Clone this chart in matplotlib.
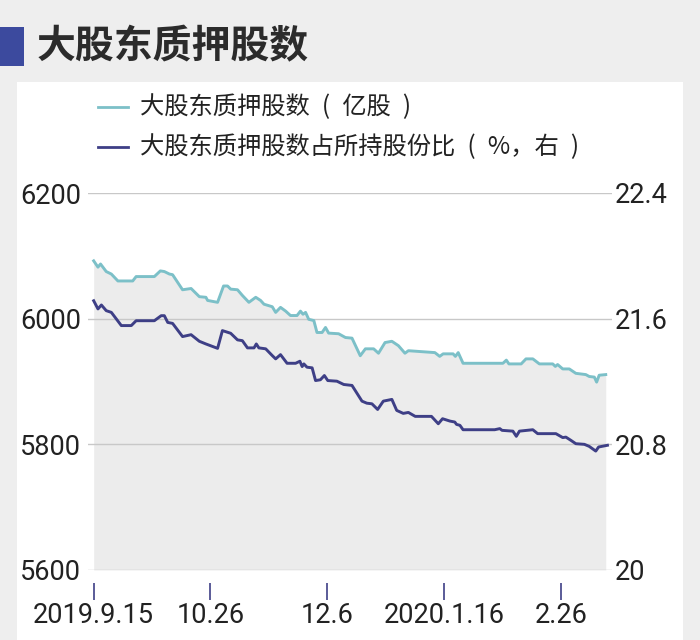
import matplotlib
matplotlib.use("Agg")
import matplotlib.pyplot as plt
from matplotlib.patches import Rectangle

plt.rcParams['font.family'] = ['Noto Sans CJK SC', 'DejaVu Sans']

# days since 2019-09-15
pledge_days = [0, 1.5, 2.4, 4.4, 6.2, 8.5, 13.7, 14.9, 21.3, 23.4, 24.8, 26.6, 27.7,
               31.2, 34.2, 37.1, 39.4, 40, 43.5, 45.6, 47, 48.1, 50.5, 52.2, 54.5,
               56.9, 58.6, 59.8, 62.7, 63.9, 65.6, 67.4, 69.1, 71.4, 72.6, 73.5, 74.4,
               75.5, 77.3, 78.4, 80.2, 81.4, 82.5, 86, 88.4, 90.7, 93.6, 95.4, 98.3,
               100, 102.3, 104.7, 107, 109.3, 110.5, 119.8, 121.5, 122.7, 126.2, 127,
               128, 129.7, 143.7, 144.9, 145.8, 150.1, 151.8, 154.2, 156.5, 161.2,
               162.1, 162.9, 164.7, 167, 169.3, 172.8, 174, 175.8, 176.6, 177.5, 179.8]
pledge_vals = [6092, 6082, 6087, 6075, 6071, 6060, 6060, 6067, 6067, 6076, 6075, 6071, 6070,
               6046, 6048, 6035, 6034, 6029, 6026, 6052, 6052, 6047, 6046, 6037, 6026,
               6034, 6029, 6023, 6019, 6010, 6018, 6012, 6005, 6005, 6012, 6007, 6010,
               5999, 5997, 5978, 5978, 5986, 5977, 5976, 5970, 5969, 5941, 5952, 5952,
               5945, 5962, 5964, 5957, 5945, 5949, 5946, 5940, 5944, 5944, 5940,
               5946, 5929, 5929, 5934, 5928, 5928, 5936, 5936, 5928, 5928,
               5924, 5927, 5920, 5920, 5913, 5911, 5908, 5907, 5899, 5910, 5911]

ratio_days = [0, 1.5, 2.7, 4.4, 6.2, 9.7, 13.2, 14.9, 21.3, 23.7, 24.8, 26, 27.7,
              31.2, 34.2, 37.1, 39.4, 43.5, 45.2, 48.1, 50.5, 52.2, 54, 56.3, 57.1,
              58, 60.4, 62.7, 63.9, 65.6, 67.9, 70.9, 72.4, 73.2, 73.8, 74.9, 76.7,
              77.9, 79.6, 81, 82.2, 85.4, 87.8, 90.7, 94.2, 95.9, 97.7, 99.7, 101.7,
              104.7, 106.4, 108.7, 110.5, 112.9, 118.6, 121, 122.5, 125.1, 126.8,
              127.4, 128.6, 129.7, 140.8, 142.6, 143.4, 147.2, 148.4, 149.5, 154.2,
              155.9, 162.3, 164.7, 165.8, 167.6, 169.3, 172.3, 174, 176.3, 177.3, 180.4]
ratio_vals = [21.714, 21.662, 21.687, 21.651, 21.640, 21.556, 21.556, 21.587, 21.587,
              21.619, 21.619, 21.576, 21.570, 21.486, 21.498, 21.456, 21.439, 21.411,
              21.524, 21.507, 21.465, 21.460, 21.414, 21.414, 21.439, 21.414, 21.408,
              21.365, 21.344, 21.371, 21.316, 21.316, 21.329, 21.295, 21.312, 21.291,
              21.287, 21.206, 21.211, 21.238, 21.206, 21.202, 21.181, 21.175, 21.075,
              21.062, 21.058, 21.022, 21.075, 21.086, 21.016, 20.997, 21.003, 20.978,
              20.978, 20.931, 20.963, 20.948, 20.942, 20.927, 20.921, 20.893, 20.893,
              20.900, 20.889, 20.884, 20.851, 20.884, 20.893, 20.868, 20.868, 20.843,
              20.846, 20.825, 20.804, 20.800, 20.787, 20.757, 20.783, 20.794]

tick_days = [0, 41, 82, 123, 164]
tick_labels = ['2019.9.15', '10.26', '12.6', '2020.1.16', '2.26']
left_ticks = [5600, 5800, 6000, 6200]
right_ticks = [20, 20.8, 21.6, 22.4]
legend_labels = ['大股东质押股数\u2002(\u2002亿股\u2002)',
                 '大股东质押股数占所持股份比\u2002(\u2002%，右\u2002)']

TEAL = '#7cc0c8'
NAVY = '#3e3f86'
W, H = 700, 640
NUM_FONT = ['Roboto', 'DejaVu Sans']

fig = plt.figure(figsize=(7, 6.4), dpi=100, facecolor='#eeeeee')

# white panel + title block
fig.patches.append(Rectangle((17 / W, 0), 666 / W, 558 / H, transform=fig.transFigure,
                             facecolor='white', edgecolor='none', zorder=-5))
fig.patches.append(Rectangle((0, 1 - 66 / H), 24 / W, 39 / H, transform=fig.transFigure,
                             facecolor='#3c4a9e', edgecolor='none', zorder=-4))
fig.text(37 / W, 1 - 47 / H, '大股东质押股数', fontsize=28, fontweight='bold',
         color='#2b2b2b', va='center', ha='left')

ax = fig.add_axes([88 / W, 70 / H, 524 / W, 377 / H])
ax.set_facecolor('none')
ax.set_xlim(-2, 182)
ax.set_ylim(5600, 6200)

ax.fill_between(pledge_days, pledge_vals, 5600, color='#ececec', lw=0, zorder=1)
ax.plot(pledge_days, pledge_vals, color=TEAL, lw=2.1, zorder=3)

ax.set_yticks(left_ticks)
ax.set_yticklabels([str(v) for v in left_ticks])
ax.grid(axis='y', color='#c8c8c8', lw=1, zorder=2)
ax.set_axisbelow(False)

ax.set_xticks(tick_days)
ax.set_xticklabels(tick_labels)
for s in ['top', 'right', 'left']:
    ax.spines[s].set_visible(False)
ax.spines['bottom'].set_position(('outward', 9))
ax.spines['bottom'].set_visible(False)
ax.tick_params(axis='x', length=12, width=1.2, color=NAVY, pad=2,
               labelsize=19.5, labelcolor='#222222')
ax.tick_params(axis='y', length=0, pad=5, labelsize=19.5, labelcolor='#222222')

ax2 = ax.twinx()
ax2.set_ylim(20, 22.4)
ax2.plot(ratio_days, ratio_vals, color=NAVY, lw=2.1, zorder=3)
ax2.set_yticks(right_ticks)
ax2.set_yticklabels(['20', '20.8', '21.6', '22.4'])
for s in ax2.spines.values():
    s.set_visible(False)
ax2.tick_params(axis='y', length=0, pad=2, labelsize=19.5, labelcolor='#222222')

for lbl in ax.get_xticklabels() + ax.get_yticklabels() + ax2.get_yticklabels():
    lbl.set_family(NUM_FONT)

# legend
for i, (lbl, col) in enumerate(zip(legend_labels, [TEAL, NAVY])):
    y = 1 - (107 + 40 * i) / H
    fig.lines.append(plt.Line2D([98 / W, 128 / W], [y, y],
                                transform=fig.transFigure, color=col, lw=2))
    fig.text(140 / W, y, lbl, fontsize=17.5, color='#222222', va='center', ha='left')

fig.savefig('out.png', dpi=100, facecolor=fig.get_facecolor())
